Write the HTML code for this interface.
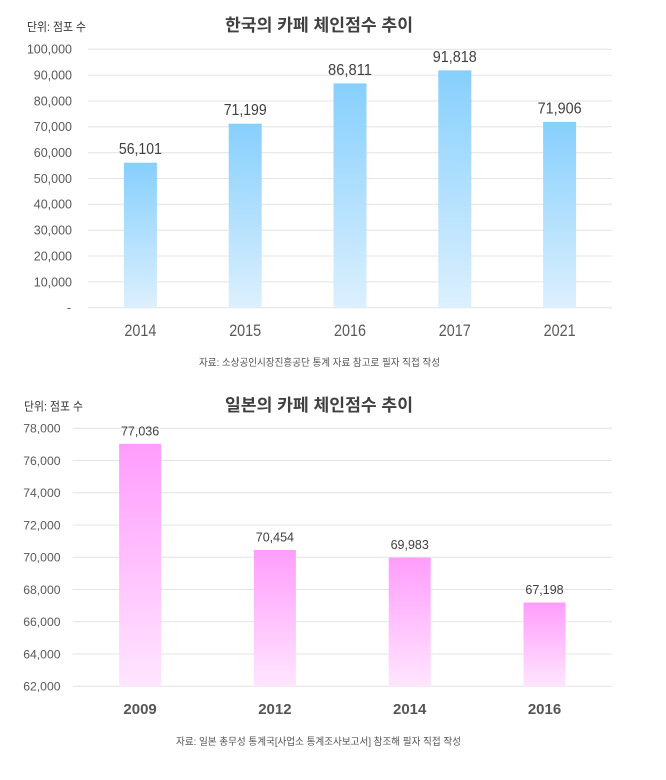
<!DOCTYPE html>
<html><head><meta charset="utf-8">
<style>
html,body{margin:0;padding:0;background:#fff;}
svg{display:block;}
text{font-family:"Liberation Sans","Noto Sans CJK KR",sans-serif;}
</style></head>
<body>
<svg width="666" height="780" viewBox="0 0 666 780" xmlns="http://www.w3.org/2000/svg">
<defs>
<linearGradient id="gb" x1="0" y1="0" x2="0" y2="1">
<stop offset="0" stop-color="#86cffd"/><stop offset="1" stop-color="#dcf0fe"/>
</linearGradient>
<linearGradient id="gp" x1="0" y1="0" x2="0" y2="1">
<stop offset="0" stop-color="#ff9dfc"/><stop offset="1" stop-color="#ffe5fe"/>
</linearGradient>
</defs>
<rect width="666" height="780" fill="#fff"/>

<!-- TOP CHART -->
<text x="27" y="31" font-size="12" fill="#333" textLength="59" lengthAdjust="spacingAndGlyphs">단위: 점포 수</text>
<text x="319" y="31" font-size="17" font-weight="bold" fill="#404040" text-anchor="middle" textLength="188" lengthAdjust="spacingAndGlyphs">한국의 카페 체인점수 추이</text>
<g stroke="#e4e4e4" stroke-width="1">
<line x1="88" x2="612" y1="307.7" y2="307.7"/>
<line x1="88" x2="612" y1="281.9" y2="281.9"/>
<line x1="88" x2="612" y1="256.0" y2="256.0"/>
<line x1="88" x2="612" y1="230.2" y2="230.2"/>
<line x1="88" x2="612" y1="204.3" y2="204.3"/>
<line x1="88" x2="612" y1="178.5" y2="178.5"/>
<line x1="88" x2="612" y1="152.7" y2="152.7"/>
<line x1="88" x2="612" y1="126.8" y2="126.8"/>
<line x1="88" x2="612" y1="101.0" y2="101.0"/>
<line x1="88" x2="612" y1="75.1" y2="75.1"/>
<line x1="88" x2="612" y1="49.3" y2="49.3"/>
</g>
<g font-size="12.5" fill="#595959" text-anchor="end">
<text x="71" y="312">-</text>
<text x="72" y="286.3">10,000</text>
<text x="72" y="260.4">20,000</text>
<text x="72" y="234.6">30,000</text>
<text x="72" y="208.7">40,000</text>
<text x="72" y="182.9">50,000</text>
<text x="72" y="157.1">60,000</text>
<text x="72" y="131.2">70,000</text>
<text x="72" y="105.4">80,000</text>
<text x="72" y="79.5">90,000</text>
<text x="72" y="53.7">100,000</text>
</g>
<g fill="url(#gb)">
<rect x="123.9" y="162.7" width="33" height="145"/>
<rect x="228.7" y="123.7" width="33" height="184"/>
<rect x="333.5" y="83.4" width="33" height="224.3"/>
<rect x="438.3" y="70.4" width="33" height="237.3"/>
<rect x="543.1" y="121.9" width="33" height="185.8"/>
</g>
<g font-size="16" fill="#404040" text-anchor="middle">
<text x="140.4" y="154.2" textLength="43" lengthAdjust="spacingAndGlyphs">56,101</text>
<text x="245.2" y="115.2" textLength="43" lengthAdjust="spacingAndGlyphs">71,199</text>
<text x="350" y="74.9" textLength="44" lengthAdjust="spacingAndGlyphs">86,811</text>
<text x="454.8" y="61.9" textLength="44" lengthAdjust="spacingAndGlyphs">91,818</text>
<text x="559.6" y="113.4" textLength="44" lengthAdjust="spacingAndGlyphs">71,906</text>
</g>
<g font-size="17" fill="#595959" text-anchor="middle">
<text x="140.4" y="336" textLength="32" lengthAdjust="spacingAndGlyphs">2014</text>
<text x="245.2" y="336" textLength="32" lengthAdjust="spacingAndGlyphs">2015</text>
<text x="350" y="336" textLength="32" lengthAdjust="spacingAndGlyphs">2016</text>
<text x="454.8" y="336" textLength="32" lengthAdjust="spacingAndGlyphs">2017</text>
<text x="559.6" y="336" textLength="32" lengthAdjust="spacingAndGlyphs">2021</text>
</g>
<text x="319.5" y="366" font-size="10" fill="#555" text-anchor="middle" textLength="241" lengthAdjust="spacingAndGlyphs">자료: 소상공인시장진흥공단 통계 자료 참고로 필자 직접 작성</text>

<!-- BOTTOM CHART -->
<text x="24" y="410.5" font-size="12" fill="#333" textLength="59" lengthAdjust="spacingAndGlyphs">단위: 점포 수</text>
<text x="319" y="411" font-size="17" font-weight="bold" fill="#404040" text-anchor="middle" textLength="188" lengthAdjust="spacingAndGlyphs">일본의 카페 체인점수 추이</text>
<g stroke="#e4e4e4" stroke-width="1">
<line x1="72.7" x2="612" y1="428.3" y2="428.3"/>
<line x1="72.7" x2="612" y1="460.55" y2="460.55"/>
<line x1="72.7" x2="612" y1="492.8" y2="492.8"/>
<line x1="72.7" x2="612" y1="525.05" y2="525.05"/>
<line x1="72.7" x2="612" y1="557.3" y2="557.3"/>
<line x1="72.7" x2="612" y1="589.55" y2="589.55"/>
<line x1="72.7" x2="612" y1="621.8" y2="621.8"/>
<line x1="72.7" x2="612" y1="654.05" y2="654.05"/>
<line x1="72.7" x2="612" y1="686.3" y2="686.3"/>
</g>
<g font-size="12.2" fill="#595959" text-anchor="end">
<text x="60.5" y="432.7">78,000</text>
<text x="60.5" y="464.9">76,000</text>
<text x="60.5" y="497.2">74,000</text>
<text x="60.5" y="529.4">72,000</text>
<text x="60.5" y="561.7">70,000</text>
<text x="60.5" y="593.9">68,000</text>
<text x="60.5" y="626.2">66,000</text>
<text x="60.5" y="658.4">64,000</text>
<text x="60.5" y="690.7">62,000</text>
</g>
<g fill="url(#gp)">
<rect x="119.1" y="443.85" width="42" height="242.45"/>
<rect x="253.9" y="550" width="42" height="136.3"/>
<rect x="388.7" y="557.6" width="42" height="128.7"/>
<rect x="523.5" y="602.5" width="42" height="83.8"/>
</g>
<g font-size="12.5" fill="#404040" text-anchor="middle">
<text x="140.1" y="435.4">77,036</text>
<text x="274.9" y="541.7">70,454</text>
<text x="409.7" y="549.2">69,983</text>
<text x="544.5" y="594.1">67,198</text>
</g>
<g font-size="15" font-weight="bold" fill="#555" text-anchor="middle">
<text x="140.1" y="714">2009</text>
<text x="274.9" y="714">2012</text>
<text x="409.7" y="714">2014</text>
<text x="544.5" y="714">2016</text>
</g>
<text x="318.5" y="745" font-size="10" fill="#555" text-anchor="middle" textLength="285" lengthAdjust="spacingAndGlyphs">자료: 일본 총무성 통계국[사업소 통계조사보고서] 참조해 필자 직접 작성</text>
</svg>
</body></html>
